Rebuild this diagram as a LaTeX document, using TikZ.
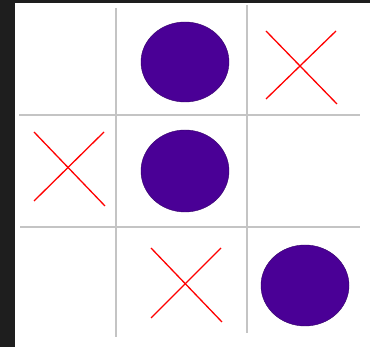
\documentclass[tikz,border=0pt]{standalone}
\usepackage{tikz}

\definecolor{darkbg}{HTML}{1E1E1E}
\definecolor{noughtfill}{HTML}{4A0096}
\definecolor{gridgray}{HTML}{C4C4C4}

\tikzset{
    gridline/.style={draw=gridgray, line width=1.1pt},
    nought/.style={fill=noughtfill, draw=noughtfill!70!black, line width=0.4pt},
    cross/.style={draw=red, line width=1.3pt},
}

\begin{document}
\begin{tikzpicture}[x=1pt, y=-1pt]
    % frame
    \fill[darkbg] (0, 0) rectangle (370, 347);
    \fill[white] (15, 3) rectangle (370, 347);
    \useasboundingbox (0, 0) rectangle (370, 347);

    % grid
    \draw[gridline] (116, 8) -- (116, 337);
    \draw[gridline] (247, 5) -- (247, 333);
    \draw[gridline] (19, 115) -- (360, 115);
    \draw[gridline] (20, 227) -- (360, 227);

    % noughts
    \draw[nought] (185, 62) ellipse [x radius=44, y radius=40];
    \draw[nought] (185, 171) ellipse [x radius=44, y radius=41];
    \draw[nought] (305, 285.5) ellipse [x radius=44, y radius=40.5];

    % crosses
    \draw[cross] (266, 31) -- (337, 104);
    \draw[cross] (266, 99) -- (336, 31);

    \draw[cross] (34, 132) -- (105, 206);
    \draw[cross] (34, 201) -- (104, 132);

    \draw[cross] (151, 248) -- (222, 322);
    \draw[cross] (151, 318) -- (221, 248);
\end{tikzpicture}
\end{document}
